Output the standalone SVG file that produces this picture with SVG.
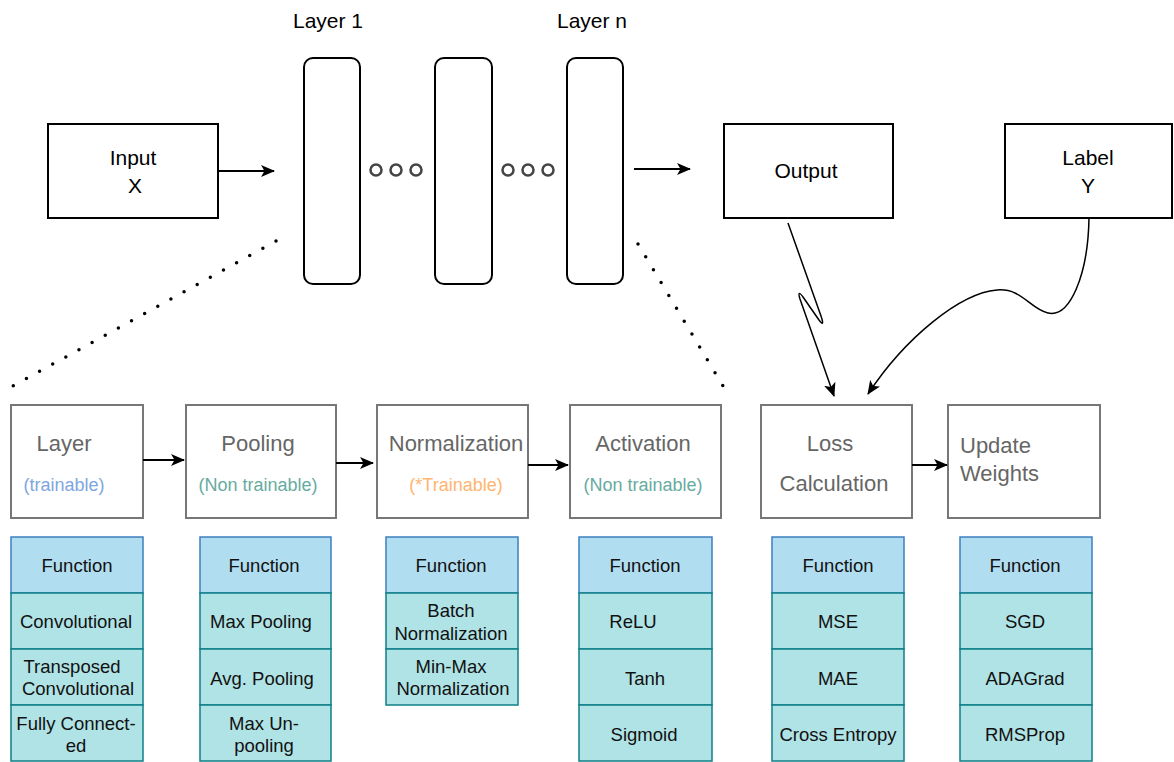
<svg xmlns="http://www.w3.org/2000/svg" width="1174" height="762" viewBox="0 0 1174 762">
  <defs>
    <marker id="arrow" markerUnits="userSpaceOnUse" markerWidth="14" markerHeight="12" refX="13" refY="6" orient="auto">
      <path d="M0,0 L14,6 L0,12 L3.5,6 Z" fill="#000"/>
    </marker>
    <style>
      text { font-family: "Liberation Sans", Arial, Helvetica, sans-serif; }
      .top { font-size: 21px; fill: #000; text-anchor: middle; dominant-baseline: central; }
      .box { fill: #fff; stroke: #000; stroke-width: 2; }
      .step { fill: #fff; stroke: #777; stroke-width: 2; }
      .title { font-size: 22px; fill: #666; text-anchor: middle; dominant-baseline: central; }
      .sub { font-size: 18px; text-anchor: middle; dominant-baseline: central; }
      .blue { fill: #7ea6e0; }
      .teal { fill: #67ab9f; }
      .orange { fill: #ffb570; }
      .head { fill: #b1ddf0; stroke: #3d7fbf; stroke-width: 1.5; }
      .row { fill: #b0e3e6; stroke: #0e8088; stroke-width: 1.5; }
      .cell { font-size: 18.5px; fill: #111; text-anchor: middle; dominant-baseline: central; }
      .edge { fill: none; stroke: #000; stroke-width: 2; marker-end: url(#arrow); }
      .thin { fill: none; stroke: #000; stroke-width: 1.5; stroke-linejoin: round; marker-end: url(#arrow); }
      .dots { fill: none; stroke: #000; stroke-width: 3.5; stroke-linecap: round; stroke-dasharray: 0 15; }
      .ring { fill: #fff; stroke: #444; stroke-width: 2.5; }
    </style>
  </defs>
  <rect width="1174" height="762" fill="#fff"/>

  <!-- forward pass -->
  <g id="input">
    <rect class="box" x="48" y="124" width="170" height="94"/>
    <text class="top" x="133" y="157">Input</text>
    <text class="top" x="135" y="185">X</text>
  </g>
  <g id="layer-1">
    <rect class="box" x="304" y="58" width="56" height="226" rx="9"/>
    <text class="top" x="328" y="20">Layer 1</text>
  </g>
  <g id="layer-mid">
    <rect class="box" x="435" y="58" width="57" height="226" rx="9"/>
  </g>
  <g id="layer-n">
    <rect class="box" x="567" y="58" width="56" height="226" rx="9"/>
    <text class="top" x="592" y="20">Layer n</text>
  </g>
  <g id="ellipsis-1">
    <circle class="ring" cx="376" cy="170" r="5.5"/>
    <circle class="ring" cx="396" cy="170" r="5.5"/>
    <circle class="ring" cx="416" cy="170" r="5.5"/>
  </g>
  <g id="ellipsis-2">
    <circle class="ring" cx="508" cy="170" r="5.5"/>
    <circle class="ring" cx="528" cy="170" r="5.5"/>
    <circle class="ring" cx="548" cy="170" r="5.5"/>
  </g>
  <g id="output">
    <rect class="box" x="724" y="124" width="169" height="94"/>
    <text class="top" x="806" y="170">Output</text>
  </g>
  <g id="label">
    <rect class="box" x="1005" y="124" width="167" height="94"/>
    <text class="top" x="1088" y="157">Label</text>
    <text class="top" x="1088" y="185">Y</text>
  </g>

  <!-- training steps -->
  <g id="step-layer">
    <rect class="step" x="11" y="405" width="132" height="113"/>
    <text class="title" x="64" y="443">Layer</text>
    <text class="sub blue" x="64" y="485">(trainable)</text>
  </g>
  <g id="step-pooling">
    <rect class="step" x="186" y="405" width="150" height="113"/>
    <text class="title" x="258" y="443">Pooling</text>
    <text class="sub teal" x="258" y="485">(Non trainable)</text>
  </g>
  <g id="step-normalization">
    <rect class="step" x="377" y="405" width="151" height="113"/>
    <text class="title" x="456" y="443">Normalization</text>
    <text class="sub orange" x="456" y="485">(*Trainable)</text>
  </g>
  <g id="step-activation">
    <rect class="step" x="570" y="405" width="151" height="113"/>
    <text class="title" x="643" y="443">Activation</text>
    <text class="sub teal" x="643" y="485">(Non trainable)</text>
  </g>
  <g id="step-loss">
    <rect class="step" x="761" y="405" width="151" height="113"/>
    <text class="title" x="830" y="443">Loss</text>
    <text class="title" x="834" y="483">Calculation</text>
  </g>
  <g id="step-update">
    <rect class="step" x="948" y="405" width="152" height="113"/>
    <text class="title" x="960" y="445" style="text-anchor:start">Update</text>
    <text class="title" x="960" y="473" style="text-anchor:start">Weights</text>
  </g>

  <!-- function tables -->
  <g id="table-layer">
    <rect class="head" x="11" y="537" width="132" height="56"/>
    <rect class="row" x="11" y="593" width="132" height="56"/>
    <rect class="row" x="11" y="649" width="132" height="56"/>
    <rect class="row" x="11" y="705" width="132" height="56"/>
    <text class="cell" x="77" y="565">Function</text>
    <text class="cell" x="76" y="621">Convolutional</text>
    <text class="cell" x="72" y="666">Transposed</text>
    <text class="cell" x="78" y="688">Convolutional</text>
    <text class="cell" x="76" y="723">Fully Connect-</text>
    <text class="cell" x="76" y="745">ed</text>
  </g>
  <g id="table-pooling">
    <rect class="head" x="200" y="537" width="131" height="56"/>
    <rect class="row" x="200" y="593" width="131" height="56"/>
    <rect class="row" x="200" y="649" width="131" height="56"/>
    <rect class="row" x="200" y="705" width="131" height="56"/>
    <text class="cell" x="264" y="565">Function</text>
    <text class="cell" x="261" y="621">Max Pooling</text>
    <text class="cell" x="262" y="678">Avg. Pooling</text>
    <text class="cell" x="264" y="723">Max Un-</text>
    <text class="cell" x="264" y="745">pooling</text>
  </g>
  <g id="table-normalization">
    <rect class="head" x="386" y="537" width="132" height="56"/>
    <rect class="row" x="386" y="593" width="132" height="56"/>
    <rect class="row" x="386" y="649" width="132" height="56"/>
    <text class="cell" x="451" y="565">Function</text>
    <text class="cell" x="451" y="610">Batch</text>
    <text class="cell" x="451" y="633">Normalization</text>
    <text class="cell" x="451" y="666">Min-Max</text>
    <text class="cell" x="453" y="688">Normalization</text>
  </g>
  <g id="table-activation">
    <rect class="head" x="579" y="537" width="133" height="56"/>
    <rect class="row" x="579" y="593" width="133" height="56"/>
    <rect class="row" x="579" y="649" width="133" height="56"/>
    <rect class="row" x="579" y="705" width="133" height="56"/>
    <text class="cell" x="645" y="565">Function</text>
    <text class="cell" x="633" y="621">ReLU</text>
    <text class="cell" x="645" y="678">Tanh</text>
    <text class="cell" x="644" y="734">Sigmoid</text>
  </g>
  <g id="table-loss">
    <rect class="head" x="772" y="537" width="132" height="56"/>
    <rect class="row" x="772" y="593" width="132" height="56"/>
    <rect class="row" x="772" y="649" width="132" height="56"/>
    <rect class="row" x="772" y="705" width="132" height="56"/>
    <text class="cell" x="838" y="565">Function</text>
    <text class="cell" x="838" y="621">MSE</text>
    <text class="cell" x="838" y="678">MAE</text>
    <text class="cell" x="838" y="734">Cross Entropy</text>
  </g>
  <g id="table-update">
    <rect class="head" x="960" y="537" width="132" height="56"/>
    <rect class="row" x="960" y="593" width="132" height="56"/>
    <rect class="row" x="960" y="649" width="132" height="56"/>
    <rect class="row" x="960" y="705" width="132" height="56"/>
    <text class="cell" x="1025" y="565">Function</text>
    <text class="cell" x="1025" y="621">SGD</text>
    <text class="cell" x="1025" y="678">ADAGrad</text>
    <text class="cell" x="1025" y="734">RMSProp</text>
  </g>

  <!-- connectors -->
  <g id="connectors">
    <line class="edge" x1="218" y1="171" x2="274" y2="171"/>
    <line class="edge" x1="634" y1="169" x2="690" y2="169"/>
    <line class="dots" x1="276" y1="241" x2="13" y2="386"/>
    <line class="dots" x1="638" y1="244" x2="723" y2="386"/>
    <line class="edge" x1="143" y1="460" x2="184" y2="460"/>
    <line class="edge" x1="336" y1="463" x2="373" y2="463"/>
    <line class="edge" x1="528" y1="465" x2="568" y2="465"/>
    <line class="edge" x1="912" y1="465" x2="947" y2="465"/>
    <path class="thin" d="M788,223 L821,316 Q825,328 819,320 L803,297 Q797,289 800,299 L834,396"/>
    <path class="thin" d="M1089,218 C1088,275 1070,318 1048,313 C1030,309 1022,288 997,290 C960,293 905,338 868,394"/>
  </g>
</svg>
